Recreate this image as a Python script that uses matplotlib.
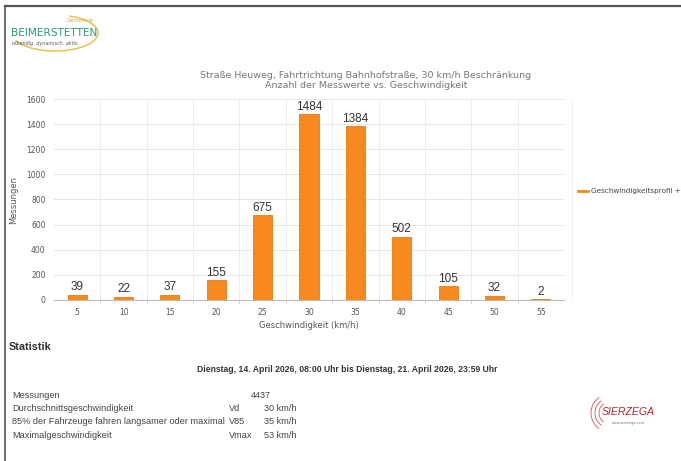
import matplotlib
matplotlib.use("Agg")
import matplotlib.pyplot as plt
from matplotlib.patches import Arc
from matplotlib.lines import Line2D

# data
geschw = [5, 10, 15, 20, 25, 30, 35, 40, 45, 50, 55]
anzahl = [39, 22, 37, 155, 675, 1484, 1384, 502, 105, 32, 2]

stat_namen = ["Messungen", "Durchschnittsgeschwindigkeit",
              "85% der Fahrzeuge fahren langsamer oder maximal", "Maximalgeschwindigkeit"]
stat_kurz = ["", "Vd", "V85", "Vmax"]
stat_werte = ["4437", "30 km/h", "35 km/h", "53 km/h"]

W, H = 681, 461
fig = plt.figure(figsize=(W / 100, H / 100), dpi=100)
fig.patch.set_facecolor("white")

SCHMAL = ["Liberation Sans", "DejaVu Sans"]

def px(x, y):
    return x / W, 1 - y / H

# rahmen oben und links
fig.add_artist(Line2D([5 / W, 1], [1 - 6.5 / H] * 2, color="#555555", lw=1.6))
fig.add_artist(Line2D([5 / W] * 2, [0, 1 - 6.5 / H], color="#555555", lw=1.2))

# diagramm
ax = fig.add_axes([54 / W, 1 - 299.5 / H, 510 / W, 200 / H])
pos = list(range(len(geschw)))
ax.bar(pos, anzahl, width=0.41, color="#F7891E", edgecolor="#E97A12", linewidth=0.6, zorder=3)
for p, v in zip(pos, anzahl):
    ax.text(p, v + 12, str(v), ha="center", va="bottom", fontsize=8.5,
            family=SCHMAL, color="#333333", zorder=4)

ax.set_xlim(-0.5, len(geschw) - 0.5)
ax.set_ylim(0, 1600)
ax.set_yticks(range(0, 1601, 200))
ax.set_xticks(pos)
ax.set_xticklabels([str(g) for g in geschw])
ax.set_xticks([p + 0.5 for p in pos[:-1]], minor=True)
ax.tick_params(axis="x", which="major", length=0, labelsize=5.5, colors="#555555", pad=6)
ax.tick_params(axis="x", which="minor", length=3, color="#cccccc")
ax.tick_params(axis="y", length=0, labelsize=5.5, colors="#555555", pad=6)
ax.grid(axis="y", color="#e6e6e6", lw=0.7, zorder=0)
ax.grid(axis="x", which="minor", color="#eeeeee", lw=0.7, zorder=0)
for s in ["top", "right", "left"]:
    ax.spines[s].set_visible(False)
ax.spines["bottom"].set_color("#bbbbbb")
ax.set_xlabel("Geschwindigkeit (km/h)", fontsize=6, color="#555555", labelpad=3)
ax.set_ylabel("Messungen", fontsize=6, color="#555555", labelpad=6)

fig.text(*px(366, 75), "Straße Heuweg, Fahrtrichtung Bahnhofstraße, 30 km/h Beschränkung",
         ha="center", va="center", fontsize=6.8, color="#777777")
fig.text(*px(366, 85), "Anzahl der Messwerte vs. Geschwindigkeit",
         ha="center", va="center", fontsize=6.8, color="#777777")

# legende
fig.add_artist(Line2D([578 / W, 588 / W], [1 - 191 / H] * 2, color="#F7891E", lw=2))
fig.text(*px(591, 191), "Geschwindigkeitsprofil +", ha="left", va="center",
         fontsize=5.2, color="#444444")
fig.add_artist(Line2D([572 / W] * 2, [1 - 100 / H, 1 - 300 / H], color="#f2f2f2", lw=0.7))

# logo Beimerstetten
fig.add_artist(Arc(px(55, 33), 86 / W, 36 / H, theta1=195, theta2=60,
                   color="#E8C24A", lw=1.1, transform=fig.transFigure))
fig.text(*px(80, 20), "Gemeinde", fontsize=3.8, color="#D9A93A", style="italic", ha="center", va="center")
fig.text(*px(11, 33), "BEIMERSTETTEN", fontsize=7.6, color="#2E9A73", ha="left", va="center")
fig.text(*px(12, 43.5), "lebendig. dynamisch. aktiv.", fontsize=3.5, color="#555555",
         style="italic", ha="left", va="center")

# statistik
fig.text(*px(9, 347), "Statistik", fontsize=7.8, fontweight="bold", family=SCHMAL,
         color="#333333", va="center")
fig.text(*px(347, 370), "Dienstag, 14. April 2026, 08:00 Uhr bis Dienstag, 21. April 2026, 23:59 Uhr",
         fontsize=6.2, fontweight="bold", family=SCHMAL, color="#333333", ha="center", va="center")
zeilen_y = [395, 408.5, 422, 435.5]
for y, n, k, w in zip(zeilen_y, stat_namen, stat_kurz, stat_werte):
    fig.text(*px(12, y), n, fontsize=6.6, family=SCHMAL, color="#444444", va="center")
    fig.text(*px(229, y), k, fontsize=6.6, family=SCHMAL, color="#444444", va="center")
    fig.text(*px(251 if not k else 264, y), w, fontsize=6.6, family=SCHMAL,
             color="#444444", va="center")

# logo Sierzega
for r in [11, 15, 19]:
    fig.add_artist(Arc(px(610, 413), r * 2 / W, r * 2 / H, theta1=115, theta2=245,
                       color="#D06A6A", lw=0.7, transform=fig.transFigure))
fig.text(*px(628, 412), "SIERZEGA", fontsize=7.6, color="#B5242C", style="italic",
         family=SCHMAL, ha="center", va="center")
fig.text(*px(628, 423), "www.sierzega.com", fontsize=2.5, color="#777777", ha="center", va="center")

fig.savefig("out.png", dpi=100, facecolor="white")
